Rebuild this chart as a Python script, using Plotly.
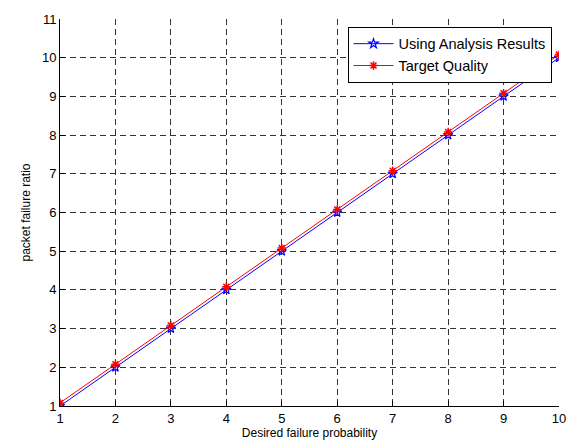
import plotly.graph_objects as go

desired_prob = [1, 2, 3, 4, 5, 6, 7, 8, 9, 10]
analysis_ratio = [1, 2, 3, 4, 5, 6, 7, 8, 9, 10]
target_ratio = [1.08, 2.08, 3.08, 4.08, 5.08, 6.08, 7.08, 8.08, 9.08, 10.08]

fig = go.Figure()
fig.add_trace(go.Scatter(
    x=desired_prob, y=analysis_ratio, mode="lines+markers",
    name="Using Analysis Results",
    line=dict(color="#0000ff", width=1),
    marker=dict(symbol="star-open", size=7, color="#0000ff", line=dict(width=1.2, color="#0000ff")),
))
fig.add_trace(go.Scatter(
    x=desired_prob, y=target_ratio, mode="lines+markers",
    name="Target Quality",
    line=dict(color="#ff0000", width=1),
    marker=dict(symbol="asterisk-open", size=7, color="#ff0000", line=dict(width=1.5, color="#ff0000")),
))

axis_common = dict(
    showgrid=True, gridcolor="#333333", griddash="6px,4px", gridwidth=1,
    ticks="inside", ticklen=5, tickcolor="#000000",
    showline=True, linecolor="#000000", linewidth=1,
    zeroline=False, tickfont=dict(size=13, color="#000000"),
)

fig.update_layout(
    width=578, height=448,
    margin=dict(l=60, r=12, t=14, b=39),
    paper_bgcolor="#ffffff", plot_bgcolor="#ffffff",
    font=dict(family="Liberation Sans, Arial, sans-serif", size=12, color="#000000"),
    xaxis=dict(range=[1, 10], dtick=1, title=dict(text="Desired failure probability", standoff=2, font=dict(size=12)), **axis_common),
    yaxis=dict(range=[1, 11], dtick=1, title=dict(text="packet failure ratio", standoff=8, font=dict(size=12)), **axis_common),
    legend=dict(
        x=0.985, y=0.98, xanchor="right", yanchor="top",
        bgcolor="#ffffff", bordercolor="#000000", borderwidth=1,
        font=dict(size=14.5), tracegroupgap=0, itemwidth=40,
    ),
    showlegend=True,
)

fig.write_html("out.html")
